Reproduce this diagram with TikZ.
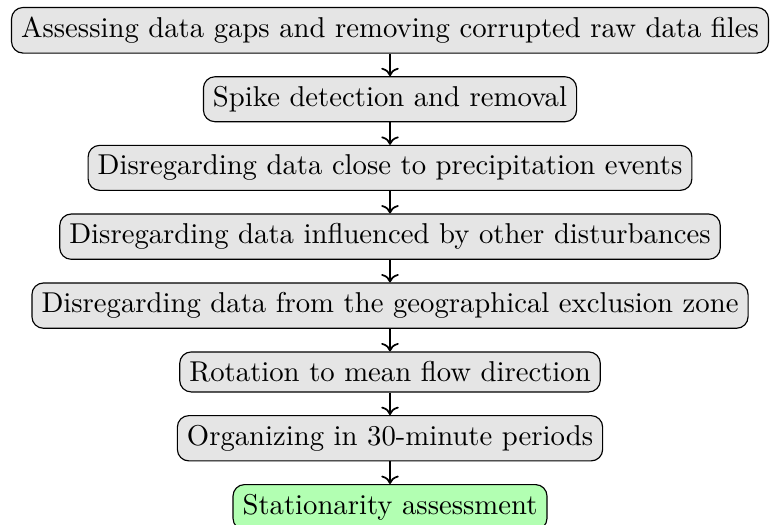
\documentclass[tikz,border=0pt]{standalone}
\usepackage{tikz}
\usetikzlibrary{arrows.meta, positioning}

\begin{document}
\begin{tikzpicture}[node distance=0.276cm,
  procstep/.style={draw, rounded corners, fill=gray!20},
  endstep/.style={draw, rounded corners, fill=green!30},
  flow/.style={->, semithick}]
\useasboundingbox (-135.9pt,-172.35pt) rectangle (133.1pt,10.55pt);
\node[procstep] (gaps) at (0,0) {Assessing data gaps and removing corrupted raw data files};
\node[procstep, below=of gaps] (spike) {Spike detection and removal};
\node[procstep, below=of spike] (precip) {Disregarding data close to precipitation events};
\node[procstep, below=of precip] (disturb) {Disregarding data influenced by other disturbances};
\node[procstep, below=of disturb] (zone) {Disregarding data from the geographical exclusion zone};
\node[procstep, below=of zone] (rot) {Rotation to mean flow direction};
\node[procstep, below=of rot] (periods) {Organizing in 30-minute periods};
\node[endstep, below=of periods] (stat) {Stationarity assessment};
\draw[flow] (gaps) -- (spike);
\draw[flow] (spike) -- (precip);
\draw[flow] (precip) -- (disturb);
\draw[flow] (disturb) -- (zone);
\draw[flow] (zone) -- (rot);
\draw[flow] (rot) -- (periods);
\draw[flow] (periods) -- (stat);
\end{tikzpicture}
\end{document}
